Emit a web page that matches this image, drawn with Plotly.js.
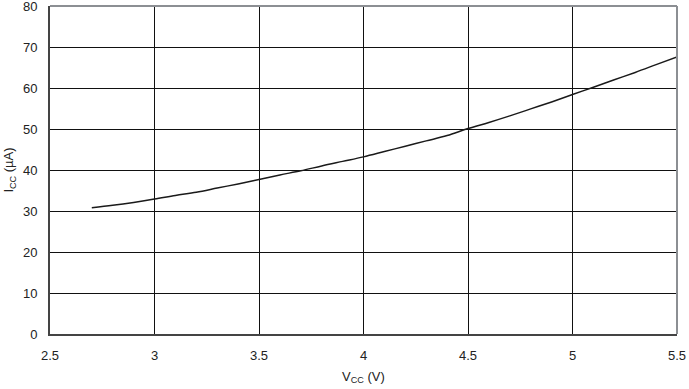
<!DOCTYPE html>
<html>
<head>
<meta charset="utf-8">
<script src="https://cdn.plot.ly/plotly-3.0.1.min.js"></script>
<style>html,body{margin:0;padding:0;background:#fff;}#chart{width:689px;height:389px;}</style>
</head>
<body>
<div id="chart"></div>
<script>
const vcc = [2.7, 2.8, 2.9, 3.0, 3.1, 3.2, 3.3, 3.4, 3.5, 3.6, 3.7, 3.8, 3.9, 4.0, 4.1, 4.2, 4.3, 4.4, 4.5, 4.6, 4.7, 4.8, 4.9, 5.0, 5.1, 5.2, 5.3, 5.4, 5.5];
const icc = [30.8, 31.4, 32.1, 32.9, 33.8, 34.6, 35.6, 36.6, 37.7, 38.8, 39.8, 41.0, 42.1, 43.2, 44.5, 45.8, 47.1, 48.4, 50.1, 51.6, 53.2, 54.9, 56.6, 58.4, 60.2, 62.0, 63.8, 65.7, 67.6];
const xTicks = [2.5, 3, 3.5, 4, 4.5, 5, 5.5];
const xTickText = ['2.5', '3', '3.5', '4', '4.5', '5', '5.5'];
const yTicks = [0, 10, 20, 30, 40, 50, 60, 70, 80];

const trace = {x: vcc, y: icc, type: 'scatter', mode: 'lines', line: {color: '#1a1a1a', width: 1.5, shape: 'spline'}, hoverinfo: 'skip'};
const layout = {
  width: 689, height: 389,
  margin: {l: 50, r: 12, t: 6, b: 55},
  paper_bgcolor: '#fff', plot_bgcolor: '#fff',
  font: {family: 'Liberation Sans, Arial, sans-serif', color: '#222', size: 13},
  showlegend: false,
  xaxis: {range: [2.5, 5.5], tickvals: xTicks, ticktext: xTickText, showgrid: true, gridcolor: '#111', gridwidth: 1,
    zeroline: false, showline: true, linecolor: '#444', linewidth: 2, ticks: '', ticklabelstandoff: 8, ticklabeloverflow: 'allow',
    title: {text: 'V<sub>CC</sub> (V)', font: {size: 13}, standoff: 10}},
  yaxis: {range: [0, 80], tickvals: yTicks, showgrid: true, gridcolor: '#111', gridwidth: 1,
    zeroline: false, showline: true, linecolor: '#444', linewidth: 2, ticks: '', ticklabelstandoff: 8, ticklabeloverflow: 'allow',
    title: {text: 'I<sub>CC</sub> (µA)', font: {size: 13}, standoff: 6}},
  shapes: [
    {type: 'line', xref: 'paper', yref: 'paper', x0: 0, x1: 1, y0: 1, y1: 1, line: {color: '#8c8f93', width: 2}},
    {type: 'line', xref: 'paper', yref: 'paper', x0: 1, x1: 1, y0: 0, y1: 1, line: {color: '#8c8f93', width: 2}}
  ]
};
Plotly.newPlot('chart', [trace], layout, {staticPlot: true, displayModeBar: false});
</script>
</body>
</html>
